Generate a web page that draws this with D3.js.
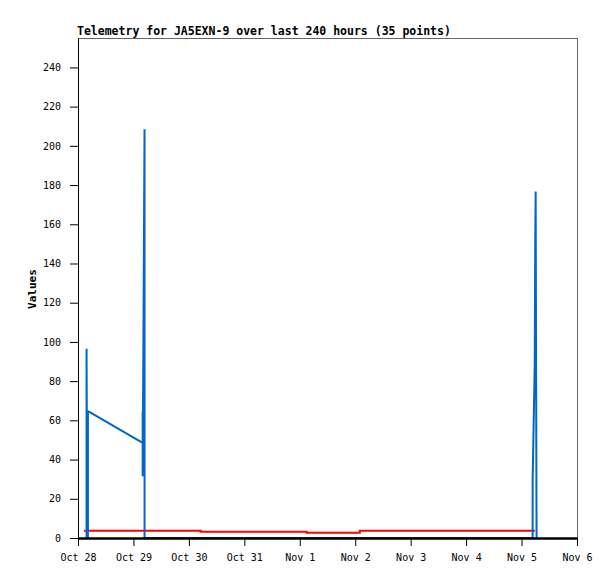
<!DOCTYPE html>
<html>
<head>
<meta charset="utf-8">
<script src="https://cdn.jsdelivr.net/npm/d3@7"></script>
<style>
  body { margin: 0; background: #fff; }
</style>
</head>
<body>
<div id="chart"></div>
<script>
const title = 'Telemetry for JA5EXN-9 over last 240 hours (35 points)';
const yLabel = 'Values';
const startTime = new Date(2023, 9, 28);
const endTime = new Date(2023, 10, 6);
const yTicks = [0, 20, 40, 60, 80, 100, 120, 140, 160, 180, 200, 220, 240];

// hours since Oct 28 00:00
const blueHours = [3.7, 3.7, 4.0, 4.3, 4.3, 4.7, 28.0, 28.0, 28.0, 28.8, 28.8, 196.8, 196.8, 197.7, 197.9, 198.1, 198.5];
const blueValues = [0, 96.5, 0, 0, 64.5, 64.5, 48.5, 64.5, 31.5, 208.5, 0, 0, 29.6, 88, 147, 176.7, 0];

const redHours = [2.6, 53.1, 99.0, 122.0, 197.8];
const redValues = [3.7, 3.2, 2.7, 3.7, 3.7];

const margin = { top: 38, right: 38, bottom: 41, left: 78 };
const width = 615 - margin.left - margin.right;
const height = 579 - margin.top - margin.bottom;

const toDate = h => new Date(startTime.getTime() + h * 3600 * 1000);
const blue = blueHours.map((h, i) => ({ t: toDate(h), v: blueValues[i] }));
const red = redHours.map((h, i) => ({ t: toDate(h), v: redValues[i] }));

const svg = d3.select('#chart').append('svg')
  .attr('width', 615)
  .attr('height', 579)
  .attr('font-family', '"DejaVu Sans Mono", monospace');

const xScale = d3.scaleTime()
  .domain([startTime, endTime])
  .range([0, width]);

const yScale = d3.scaleLinear()
  .domain([0, 255])
  .range([height, 0]);

const chart = svg.append('g')
  .attr('transform', `translate(${margin.left},${margin.top})`);

// frame
chart.append('rect')
  .attr('width', width)
  .attr('height', height)
  .attr('fill', 'none')
  .attr('stroke', '#666')
  .attr('shape-rendering', 'crispEdges');

const xAxis = d3.axisBottom(xScale)
  .ticks(d3.timeDay.every(1))
  .tickFormat(d3.timeFormat('%b %-d'))
  .tickSize(8)
  .tickSizeOuter(0);

const yAxis = d3.axisLeft(yScale)
  .tickValues(yTicks)
  .tickSize(8)
  .tickSizeOuter(0);

const redLine = d3.line()
  .curve(d3.curveStepAfter)
  .x(d => xScale(d.t))
  .y(d => yScale(d.v));

const blueLine = d3.line()
  .x(d => xScale(d.t))
  .y(d => yScale(d.v));

chart.append('path')
  .datum(red)
  .attr('fill', 'none')
  .attr('stroke', '#ff0000')
  .attr('stroke-width', 2)
  .attr('d', redLine);

chart.append('path')
  .datum(blue)
  .attr('fill', 'none')
  .attr('stroke', '#0066cc')
  .attr('stroke-width', 2)
  .attr('stroke-linejoin', 'miter')
  .attr('stroke-miterlimit', 1)
  .attr('d', blueLine);

chart.append('g')
  .attr('transform', `translate(0,${height})`)
  .call(xAxis)
  .call(g => g.select('.domain').attr('stroke-width', 2.5))
  .call(g => g.selectAll('text')
    .attr('font-family', '"DejaVu Sans Mono", monospace')
    .attr('font-size', 10)
    .attr('fill', '#000')
    .attr('dy', '1.15em'));

chart.append('g')
  .call(yAxis)
  .call(g => g.selectAll('text')
    .attr('font-family', '"DejaVu Sans Mono", monospace')
    .attr('font-size', 10)
    .attr('fill', '#000')
    .attr('x', -17));

svg.append('text')
  .attr('x', 77)
  .attr('y', 35)
  .attr('font-size', 11.5)
  .attr('font-weight', 'bold')
  .text(title);

svg.append('text')
  .attr('transform', 'translate(36,289) rotate(-90)')
  .attr('text-anchor', 'middle')
  .attr('font-size', 11)
  .attr('font-weight', 'bold')
  .text(yLabel);
</script>
</body>
</html>
